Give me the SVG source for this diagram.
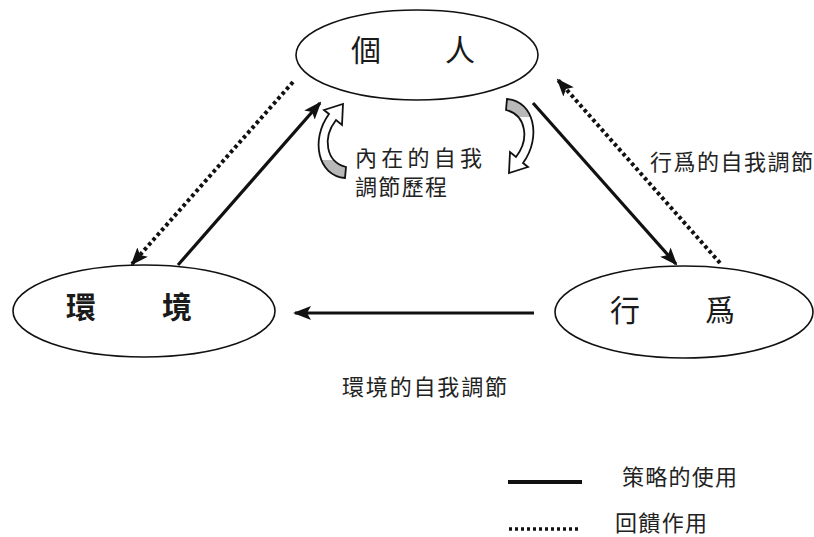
<svg xmlns="http://www.w3.org/2000/svg" xmlns:xlink="http://www.w3.org/1999/xlink" width="814" height="537" viewBox="0 0 814 537">
<style>
.node ellipse{fill:#fff;stroke:#111;stroke-width:1.6}
.nt{font-family:"Noto Sans CJK TC","Noto Sans CJK SC",sans-serif;font-size:30px;fill:#1a1a1a;text-anchor:middle}
.lb{font-family:"Noto Sans CJK TC","Noto Sans CJK SC",sans-serif;font-size:22px;fill:#222}
.solid{stroke:#111;stroke-width:3.2;fill:none}
.dot{stroke:#111;stroke-width:4;fill:none;stroke-dasharray:3.5 3}
.curl{stroke:#111;stroke-width:1.8;fill:url(#tailg)}
</style>
<defs>
<marker id="ah" markerUnits="userSpaceOnUse" markerWidth="18" markerHeight="14" refX="16" refY="7" orient="auto">
<path d="M0,0 L18,7 L0,14 L4,7 Z" fill="#111"/>
</marker>
<linearGradient id="tailg" x1="0" y1="1" x2="0" y2="0">
<stop offset="0" stop-color="#b8b8b8"/>
<stop offset="0.24" stop-color="#b8b8b8"/>
<stop offset="0.25" stop-color="#fff"/>
<stop offset="1" stop-color="#fff"/>
</linearGradient>
<path id="curlp" d="M345 178 C318 176 310 140 329 114 L324 110 L343 104 L342 125 L336 120 C322 138 326 162 346 167 Z"/>
</defs>
<rect width="814" height="537" fill="#fff"/>

<g id="connectors">
<line class="solid" x1="178" y1="265" x2="320" y2="103" marker-end="url(#ah)"/>
<line class="dot" x1="293" y1="82" x2="132" y2="264" marker-end="url(#ah)"/>
<line class="solid" x1="533" y1="103" x2="676" y2="264" marker-end="url(#ah)"/>
<line class="dot" x1="720" y1="263" x2="558" y2="80" marker-end="url(#ah)"/>
<line class="solid" x1="534" y1="313" x2="295" y2="313" marker-end="url(#ah)"/>
<use xlink:href="#curlp" class="curl"/>
<use xlink:href="#curlp" class="curl" transform="translate(852,277) scale(-1,-1)"/>
</g>

<g id="node-person" class="node">
<ellipse cx="417" cy="55" rx="121" ry="45"/>
<text class="nt" x="366" y="61">個</text>
<text class="nt" x="460" y="61">人</text>
</g>
<g id="node-environment" class="node">
<ellipse cx="144" cy="311" rx="131" ry="46"/>
<text class="nt" x="81" y="318" font-weight="700">環</text>
<text class="nt" x="177" y="318" font-weight="700">境</text>
</g>
<g id="node-behavior" class="node">
<ellipse cx="684" cy="312" rx="129" ry="46"/>
<text class="nt" x="625" y="321">行</text>
<text class="nt" x="720" y="321">爲</text>
</g>

<g id="labels">
<text class="lb" x="355" y="166" textLength="127" lengthAdjust="spacing">內在的自我</text>
<text class="lb" x="355" y="195" textLength="92" lengthAdjust="spacing">調節歷程</text>
<text class="lb" x="650" y="170" textLength="163" lengthAdjust="spacing">行爲的自我調節</text>
<text class="lb" x="342" y="395" textLength="165" lengthAdjust="spacing">環境的自我調節</text>
</g>

<g id="legend">
<line x1="508" y1="482" x2="582" y2="482" stroke="#111" stroke-width="4"/>
<text class="lb" x="622" y="485" textLength="115" lengthAdjust="spacing">策略的使用</text>
<line x1="509" y1="529" x2="579" y2="529" stroke="#111" stroke-width="3.4" stroke-dasharray="3 3"/>
<text class="lb" x="615" y="531" textLength="92" lengthAdjust="spacing">回饋作用</text>
</g>
</svg>
